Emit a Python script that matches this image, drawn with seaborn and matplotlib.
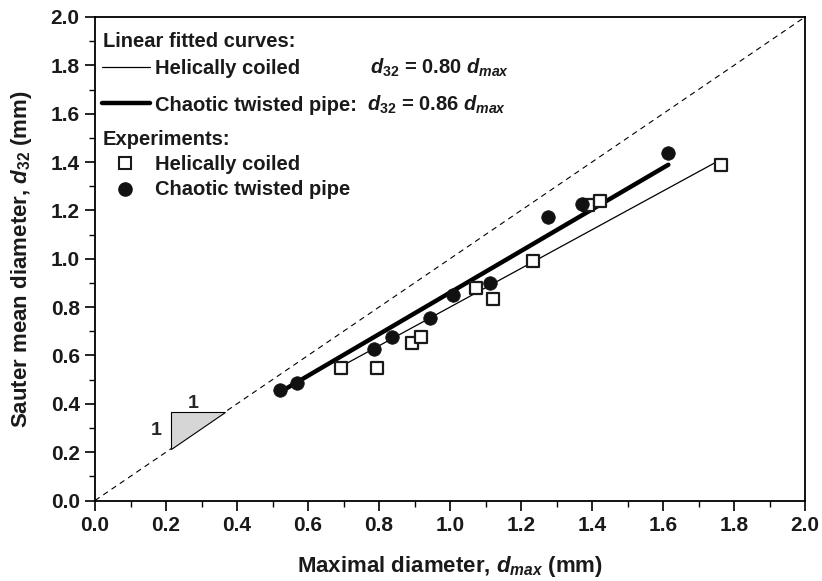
import matplotlib
matplotlib.use("Agg")
import matplotlib.pyplot as plt
from matplotlib import font_manager as fm
from matplotlib.patches import Polygon
from matplotlib.ticker import MultipleLocator
import numpy as np
import pandas as pd
import seaborn as sns

# Experimental drop diameters (mm)
helical_dmax = [0.694, 0.794, 0.892, 0.917, 1.073, 1.120, 1.235, 1.390, 1.423, 1.763]
helical_d32 = [0.549, 0.549, 0.650, 0.678, 0.878, 0.832, 0.992, 1.222, 1.239, 1.388]
chaotic_dmax = [0.521, 0.570, 0.786, 0.836, 0.944, 1.009, 1.113, 1.277, 1.371, 1.615]
chaotic_d32 = [0.457, 0.485, 0.627, 0.675, 0.756, 0.850, 0.898, 1.171, 1.226, 1.439]

# Proportional fits d32 = k * dmax
fit_names = ["Helically coiled", "Chaotic twisted pipe"]
fit_slopes = [0.80, 0.86]

axis_ticks = [0.0, 0.2, 0.4, 0.6, 0.8, 1.0, 1.2, 1.4, 1.6, 1.8, 2.0]

sns.set_theme(style="ticks")
names = {f.name for f in fm.fontManager.ttflist}
narrow = "Liberation Sans Narrow" if "Liberation Sans Narrow" in names else "Liberation Sans"
plt.rcParams["font.family"] = ["Liberation Sans", "DejaVu Sans"]
plt.rcParams["font.weight"] = "bold"
plt.rcParams["mathtext.fontset"] = "custom"
plt.rcParams["mathtext.rm"] = "Liberation Sans:bold"
plt.rcParams["mathtext.it"] = "Liberation Sans:bold:italic"
plt.rcParams["mathtext.bf"] = "Liberation Sans:bold"

fig = plt.figure(figsize=(8.22, 5.81), dpi=100)
ax = fig.add_axes([95 / 822, 1 - 500.5 / 581, 710 / 822, 483.5 / 581])

helical = pd.DataFrame({"dmax": helical_dmax, "d32": helical_d32})
chaotic = pd.DataFrame({"dmax": chaotic_dmax, "d32": chaotic_d32})

# 1:1 reference line
ax.plot([0, 2], [0, 2], color="black", lw=0.8, ls=(0, (5, 4)), zorder=1)

# fitted lines over each data range
for df, k, lw in [(helical, fit_slopes[0], 0.9), (chaotic, fit_slopes[1], 3.2)]:
    xs = np.array([df["dmax"].min(), df["dmax"].max()])
    fit = pd.DataFrame({"dmax": xs, "d32": k * xs})
    sns.lineplot(data=fit, x="dmax", y="d32", ax=ax, color="black", lw=lw,
                 solid_capstyle="round", zorder=2)

sns.scatterplot(data=helical, x="dmax", y="d32", ax=ax, marker="s", s=70,
                facecolor="white", edgecolor="#1a1a1a", linewidth=1.6, zorder=3)
sns.scatterplot(data=chaotic, x="dmax", y="d32", ax=ax, marker="o", s=95,
                color="#111111", edgecolor="#111111", linewidth=0.5, zorder=4)

# slope triangle
tri = Polygon([[0.215, 0.215], [0.215, 0.365], [0.365, 0.365]], closed=True,
              facecolor="#d6d6d6", edgecolor="black", lw=0.8, zorder=2)
ax.add_patch(tri)
ax.text(0.277, 0.40, "1", ha="center", va="center", fontsize=14, fontweight="bold")
ax.text(0.172, 0.29, "1", ha="center", va="center", fontsize=14, fontweight="bold")

ax.set_xlim(0, 2)
ax.set_ylim(0, 2)
ax.set_xticks(axis_ticks)
ax.set_yticks(axis_ticks)
ax.set_xticklabels([f"{t:.1f}" for t in axis_ticks])
ax.set_yticklabels([f"{t:.1f}" for t in axis_ticks])
ax.xaxis.set_minor_locator(MultipleLocator(0.1))
ax.yaxis.set_minor_locator(MultipleLocator(0.1))
ax.tick_params(which="major", direction="out", length=7, width=1.2, color="black",
               top=False, right=False, pad=4)
ax.tick_params(which="minor", direction="out", length=4, width=1.0, color="black",
               top=False, right=False)
for lab in ax.get_xticklabels() + ax.get_yticklabels():
    lab.set_fontfamily([narrow, "DejaVu Sans"])
    lab.set_fontweight("bold")
    lab.set_fontsize(15)
    lab.set_color("#1a1a1a")
for sp in ax.spines.values():
    sp.set_linewidth(1.3)
    sp.set_color("black")

ax.set_xlabel(r"Maximal diameter, $d_{max}$ (mm)", fontsize=16, fontweight="bold",
              family=[narrow, "DejaVu Sans"], labelpad=14, color="#1a1a1a")
ax.set_ylabel(r"Sauter mean diameter, $d_{\mathit{32}}$ (mm)", fontsize=16,
              fontweight="bold", family=[narrow, "DejaVu Sans"], labelpad=12,
              color="#1a1a1a")

# legend block
T = ax.transAxes
fs = 14.5
ax.text(0.0113, 0.9386, "Linear fitted curves:", transform=T, fontsize=fs,
        fontweight="bold", va="baseline", color="#1a1a1a")
ax.plot([0.0099, 0.0775], [0.8966, 0.8966], transform=T, color="black", lw=0.9)
ax.text(0.0845, 0.882, fit_names[0], transform=T, fontsize=fs, fontweight="bold",
        va="baseline", color="#1a1a1a")
ax.text(0.387, 0.882, rf"$d_{{\mathit{{32}}}}$ = {fit_slopes[0]:.2f} $d_{{max}}$",
        transform=T, fontsize=fs, va="baseline", color="#1a1a1a")
ax.plot([0.0099, 0.0775], [0.8215, 0.8215], transform=T, color="black", lw=3.2)
ax.text(0.0845, 0.806, fit_names[1] + ":", transform=T, fontsize=fs,
        fontweight="bold", va="baseline", color="#1a1a1a")
ax.text(0.383, 0.806, rf"$d_{{\mathit{{32}}}}$ = {fit_slopes[1]:.2f} $d_{{max}}$",
        transform=T, fontsize=fs, va="baseline", color="#1a1a1a")
ax.text(0.0113, 0.7353, "Experiments:", transform=T, fontsize=fs,
        fontweight="bold", va="baseline", color="#1a1a1a")
ax.plot([0.0423], [0.6974], transform=T, marker="s", ms=8.0, mfc="white",
        mec="#1a1a1a", mew=1.5, ls="none")
ax.text(0.0845, 0.6836, "Helically coiled", transform=T, fontsize=fs,
        fontweight="bold", va="baseline", color="#1a1a1a")
ax.plot([0.0423], [0.644], transform=T, marker="o", ms=9.5, mfc="#111111",
        mec="#111111", ls="none")
ax.text(0.0845, 0.6319, "Chaotic twisted pipe", transform=T, fontsize=fs,
        fontweight="bold", va="baseline", color="#1a1a1a")

fig.savefig("out.png", dpi=100)
